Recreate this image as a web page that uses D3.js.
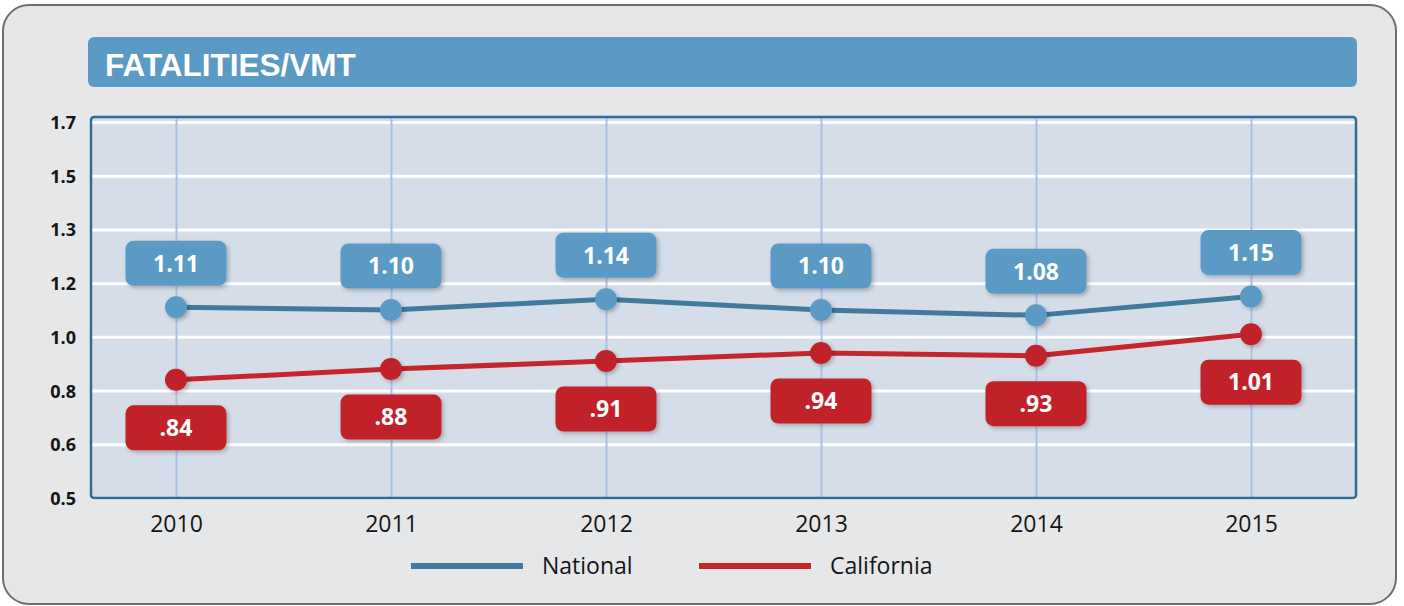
<!DOCTYPE html>
<html>
<head>
<meta charset="utf-8">
<script src="https://cdn.jsdelivr.net/npm/d3@7"></script>
<style>
  body { margin: 0; background: #fff; }
  .chart { display: block; }
  .y-axis text { font-family: "Open Sans", sans-serif; font-weight: 700; font-size: 18px; fill: #151515; }
  .x-axis text { font-family: "Open Sans", sans-serif; font-size: 23px; fill: #151515; }
  .legend text { font-family: "Open Sans", sans-serif; font-size: 23px; fill: #151515; }
  .val-label text { font-family: "Open Sans", sans-serif; font-weight: 700; font-size: 23px; fill: #fff; }
</style>
</head>
<body>
<svg class="chart"></svg>
<script>
const years = ["2010", "2011", "2012", "2013", "2014", "2015"];
const national = [1.11, 1.10, 1.14, 1.10, 1.08, 1.15];
const california = [0.84, 0.88, 0.91, 0.94, 0.93, 1.01];
const yTicks = [0.5, 0.6, 0.8, 1.0, 1.2, 1.3, 1.5, 1.7];
const seriesNames = ["National", "California"];
const chartTitle = "FATALITIES/VMT";

const width = 1404, height = 606;
const plot = {left: 91, right: 1356, top: 117, bottom: 498};

const svg = d3.select(".chart")
  .attr("width", width)
  .attr("height", height)
  .attr("viewBox", [0, 0, width, height]);

// drop shadow for boxes and dots
const shadow = svg.append("defs").append("filter")
  .attr("id", "shadow")
  .attr("x", "-20%").attr("y", "-20%")
  .attr("width", "150%").attr("height", "150%");
shadow.append("feDropShadow")
  .attr("dx", 2).attr("dy", 2)
  .attr("stdDeviation", 2)
  .attr("flood-color", "#000")
  .attr("flood-opacity", 0.25);

// outer panel
svg.append("rect")
  .attr("x", 3).attr("y", 5)
  .attr("width", 1393).attr("height", 599)
  .attr("rx", 26)
  .attr("fill", "#e6e7e9")
  .attr("stroke", "#6d6e70")
  .attr("stroke-width", 2);

// title bar
svg.append("rect")
  .attr("x", 88).attr("y", 37)
  .attr("width", 1269).attr("height", 50)
  .attr("rx", 6)
  .attr("fill", "#5a9ac4");

svg.append("text")
  .attr("x", 105).attr("y", 76)
  .attr("fill", "#fff")
  .style("font-family", "'Liberation Sans', Arial, sans-serif")
  .style("font-weight", 700)
  .style("font-size", "31.5px")
  .text(chartTitle);

// scales: the axis labels are spaced evenly though the values are not
const x = d3.scalePoint()
  .domain(years)
  .range([176, 1251]);

const y = d3.scaleLinear()
  .domain(yTicks)
  .range(yTicks.map((d, i) => plot.bottom - i * (plot.bottom - 122) / (yTicks.length - 1)));

// plot background
svg.append("rect")
  .attr("x", plot.left).attr("y", plot.top)
  .attr("width", plot.right - plot.left)
  .attr("height", plot.bottom - plot.top)
  .attr("fill", "#d5dde8");

// horizontal gridlines
svg.append("g")
  .attr("class", "grid")
  .attr("transform", `translate(${plot.left},0)`)
  .call(d3.axisLeft(y)
    .tickValues(yTicks)
    .tickSize(-(plot.right - plot.left))
    .tickFormat(""))
  .call(g => g.select(".domain").remove())
  .call(g => g.selectAll("line")
    .attr("stroke", "#fff")
    .attr("stroke-width", 3));

// vertical gridlines
svg.append("g")
  .attr("class", "grid")
  .attr("transform", `translate(0,${plot.bottom})`)
  .call(d3.axisBottom(x)
    .tickSize(-(plot.bottom - plot.top))
    .tickFormat(""))
  .call(g => g.select(".domain").remove())
  .call(g => g.selectAll("line")
    .attr("stroke", "#a9c1e6")
    .attr("stroke-width", 2));

// plot border
svg.append("rect")
  .attr("x", plot.left).attr("y", plot.top)
  .attr("width", plot.right - plot.left)
  .attr("height", plot.bottom - plot.top)
  .attr("rx", 3)
  .attr("fill", "none")
  .attr("stroke", "#2d6d97")
  .attr("stroke-width", 2.5);

// y axis labels
svg.append("g")
  .attr("class", "y-axis")
  .attr("transform", "translate(76,0)")
  .call(d3.axisLeft(y)
    .tickValues(yTicks)
    .tickSize(0)
    .tickPadding(0)
    .tickFormat(d3.format(".1f")))
  .call(g => g.select(".domain").remove())
  .call(g => g.selectAll("text").attr("dy", "0.36em"));

// x axis labels
svg.append("g")
  .attr("class", "x-axis")
  .attr("transform", `translate(0,${plot.bottom})`)
  .call(d3.axisBottom(x).tickSize(0).tickPadding(0))
  .call(g => g.select(".domain").remove())
  .call(g => g.selectAll("text").attr("dy", "34px"));

const series = [
  {name: seriesNames[0], values: national, line: "#41799f", fill: "#5a9ac4", side: -1,
   fmt: d3.format(".2f")},
  {name: seriesNames[1], values: california, line: "#c4262b", fill: "#c1232a", side: 1,
   fmt: v => d3.format(".2f")(v).replace(/^0/, "")}
];

const line = d3.line()
  .x((d, i) => x(years[i]))
  .y(d => y(d));

series.forEach(s => {
  svg.append("path")
    .datum(s.values)
    .attr("fill", "none")
    .attr("stroke", s.line)
    .attr("stroke-width", 5)
    .attr("d", line);

  svg.append("g")
    .selectAll("circle")
    .data(s.values)
    .join("circle")
    .attr("cx", (d, i) => x(years[i]))
    .attr("cy", d => y(d))
    .attr("r", 11)
    .attr("fill", s.fill)
    .attr("filter", "url(#shadow)");
});

// value boxes
const boxW = 101, boxH = 45;
series.forEach(s => {
  const lab = svg.append("g")
    .attr("class", "val-label")
    .selectAll("g")
    .data(s.values)
    .join("g")
    .attr("transform", (d, i) =>
      `translate(${x(years[i])},${y(d) + s.side * (s.side < 0 ? 44 : 48)})`);

  lab.append("rect")
    .attr("x", -boxW / 2).attr("y", -boxH / 2)
    .attr("width", boxW).attr("height", boxH)
    .attr("rx", 8)
    .attr("fill", s.fill)
    .attr("filter", "url(#shadow)");

  lab.append("text")
    .attr("text-anchor", "middle")
    .attr("dy", "0.36em")
    .text(d => s.fmt(d));
});

// legend
const legend = svg.append("g")
  .attr("class", "legend")
  .attr("transform", "translate(411,566)");

const item = legend.selectAll("g")
  .data(series)
  .join("g")
  .attr("transform", (d, i) => `translate(${i * 288},0)`);

item.append("line")
  .attr("x1", 0).attr("x2", 112)
  .attr("stroke", d => d.line)
  .attr("stroke-width", 6);

item.append("text")
  .attr("x", 131)
  .attr("dy", "0.36em")
  .text(d => d.name);
</script>
</body>
</html>
